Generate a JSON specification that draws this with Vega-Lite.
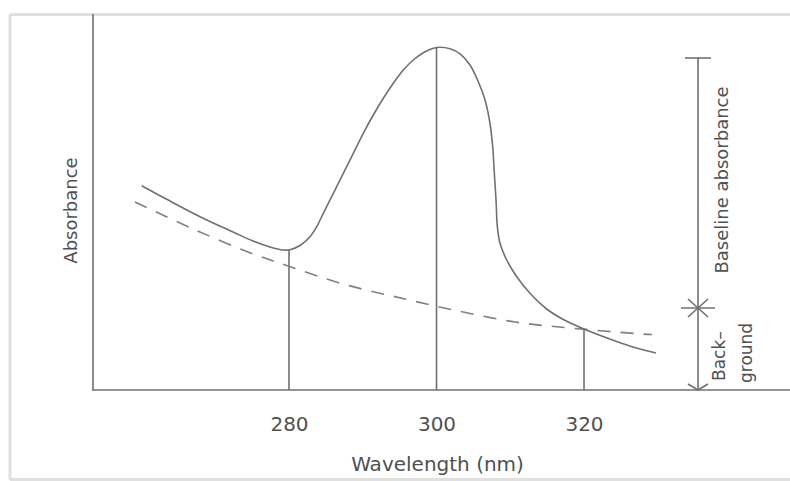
{
  "$schema": "https://vega.github.io/schema/vega-lite/v6.json",
  "width": 781,
  "height": 467,
  "autosize": "none",
  "padding": {"left": 9, "top": 13, "right": 0, "bottom": 1},
  "background": "white",
  "config": {
    "view": {"stroke": null},
    "font": "DejaVu Sans"
  },
  "datasets": {
    "solid": [
      {"x": 260.03, "y": 2.043}, {"x": 263.42, "y": 1.907}, {"x": 267.93, "y": 1.733},
      {"x": 272.41, "y": 1.58}, {"x": 275.12, "y": 1.49}, {"x": 277.42, "y": 1.43},
      {"x": 279.19, "y": 1.40}, {"x": 280.14, "y": 1.403}, {"x": 281.49, "y": 1.445},
      {"x": 282.85, "y": 1.533}, {"x": 283.76, "y": 1.633}, {"x": 284.65, "y": 1.767},
      {"x": 286.01, "y": 1.967}, {"x": 287.36, "y": 2.167}, {"x": 288.72, "y": 2.367},
      {"x": 290.07, "y": 2.567}, {"x": 291.43, "y": 2.75}, {"x": 292.79, "y": 2.917},
      {"x": 294.14, "y": 3.067}, {"x": 295.5, "y": 3.2}, {"x": 296.85, "y": 3.3},
      {"x": 298.21, "y": 3.373}, {"x": 299.57, "y": 3.417}, {"x": 300.47, "y": 3.427},
      {"x": 301.83, "y": 3.412}, {"x": 303.19, "y": 3.362}, {"x": 304.54, "y": 3.25},
      {"x": 305.67, "y": 3.083}, {"x": 306.58, "y": 2.9}, {"x": 307.25, "y": 2.667},
      {"x": 307.62, "y": 2.433}, {"x": 307.84, "y": 2.167}, {"x": 308.07, "y": 1.9},
      {"x": 308.25, "y": 1.633}, {"x": 308.61, "y": 1.467}, {"x": 309.52, "y": 1.3},
      {"x": 310.88, "y": 1.133}, {"x": 312.68, "y": 0.967}, {"x": 314.94, "y": 0.81},
      {"x": 317.19, "y": 0.705}, {"x": 320.0, "y": 0.61}, {"x": 323.12, "y": 0.52},
      {"x": 326.64, "y": 0.43}, {"x": 329.76, "y": 0.37}
    ],
    "dashed": [
      {"x": 259.12, "y": 1.88}, {"x": 266.71, "y": 1.62}, {"x": 274.44, "y": 1.38},
      {"x": 280.27, "y": 1.23}, {"x": 287.32, "y": 1.06}, {"x": 295.73, "y": 0.91},
      {"x": 301.97, "y": 0.805}, {"x": 310.64, "y": 0.68}, {"x": 318.78, "y": 0.615},
      {"x": 327.86, "y": 0.56}, {"x": 329.22, "y": 0.555}
    ],
    "segments": [
      {"x": 253.42, "y": 0, "x2": 253.42, "y2": 3.76},
      {"x": 253.29, "y": 0, "x2": 347.93, "y2": 0},
      {"x": 280, "y": 0, "x2": 280, "y2": 1.40},
      {"x": 300, "y": 0, "x2": 300, "y2": 3.425},
      {"x": 320, "y": 0, "x2": 320, "y2": 0.61},
      {"x": 335.46, "y": 0, "x2": 335.46, "y2": 3.32},
      {"x": 333.69, "y": 3.32, "x2": 337.22, "y2": 3.32},
      {"x": 333.15, "y": 0.82, "x2": 337.76, "y2": 0.82},
      {"x": 334.1, "y": 0.91, "x2": 336.81, "y2": 0.73},
      {"x": 334.1, "y": 0.73, "x2": 336.81, "y2": 0.91},
      {"x": 334.1, "y": 0.06, "x2": 335.46, "y2": 0},
      {"x": 335.46, "y": 0, "x2": 336.81, "y2": 0.06}
    ],
    "frame": [
      {"x": 242.17, "y": 3.755, "x2": 347.93, "y2": 3.755},
      {"x": 242.17, "y": -0.895, "x2": 242.17, "y2": 3.755},
      {"x": 242.17, "y": -0.895, "x2": 347.93, "y2": -0.895}
    ]
  },
  "encoding": {
    "x": {
      "field": "x", "type": "quantitative",
      "scale": {"domain": [242.034, 347.93], "nice": false, "zero": false},
      "axis": {
        "orient": "bottom", "offset": -89, "values": [280, 300, 320],
        "domain": false, "ticks": false, "tickSize": 0, "grid": false,
        "labelDx": -9, "labelPadding": 39, "labelBaseline": "alphabetic",
        "labelFont": "DejaVu Sans", "labelFontSize": 20, "labelColor": "#505050",
        "title": "Wavelength (nm)", "titleFont": "DejaVu Sans", "titleFontSize": 20,
        "titleFontWeight": "normal", "titleColor": "#505050",
        "titleX": 428, "titleY": 79, "titleBaseline": "alphabetic", "titleAlign": "center"
      }
    },
    "y": {
      "field": "y", "type": "quantitative",
      "scale": {"domain": [-0.90, 3.77], "nice": false, "zero": false},
      "axis": {
        "orient": "left", "offset": -84, "domain": false, "ticks": false,
        "labels": false, "grid": false,
        "title": "Absorbance", "titleFont": "DejaVu Sans", "titleFontSize": 18,
        "titleFontWeight": "normal", "titleColor": "#505050",
        "titleX": -17, "titleY": 197, "titleAngle": 270,
        "titleBaseline": "alphabetic", "titleAlign": "center"
      }
    }
  },
  "layer": [
    {
      "data": {"name": "frame"},
      "mark": {"type": "rule", "color": "#e0e0e0", "strokeWidth": 3},
      "encoding": {"x2": {"field": "x2"}, "y2": {"field": "y2"}}
    },
    {
      "data": {"name": "segments"},
      "mark": {"type": "rule", "color": "#707070", "strokeWidth": 1.6},
      "encoding": {"x2": {"field": "x2"}, "y2": {"field": "y2"}}
    },
    {
      "data": {"name": "dashed"},
      "mark": {"type": "line", "color": "#808080", "strokeWidth": 1.6, "strokeDash": [13, 10], "interpolate": "catmull-rom"},
      "encoding": {}
    },
    {
      "data": {"name": "solid"},
      "mark": {"type": "line", "color": "#707070", "strokeWidth": 1.6, "interpolate": "catmull-rom"},
      "encoding": {}
    },
    {
      "data": {"values": [{"x": 339.53, "y": 2.10, "t": "Baseline absorbance"}]},
      "mark": {"type": "text", "angle": 270, "align": "center", "baseline": "alphabetic", "font": "DejaVu Sans", "fontSize": 18, "color": "#505050"},
      "encoding": {"text": {"field": "t"}}
    },
    {
      "data": {"values": [{"x": 339.12, "y": 0.09, "t": "Back–"}, {"x": 342.78, "y": 0.07, "t": "ground"}]},
      "mark": {"type": "text", "angle": 270, "align": "left", "baseline": "alphabetic", "font": "DejaVu Sans", "fontSize": 17, "color": "#505050"},
      "encoding": {"text": {"field": "t"}}
    }
  ]
}
